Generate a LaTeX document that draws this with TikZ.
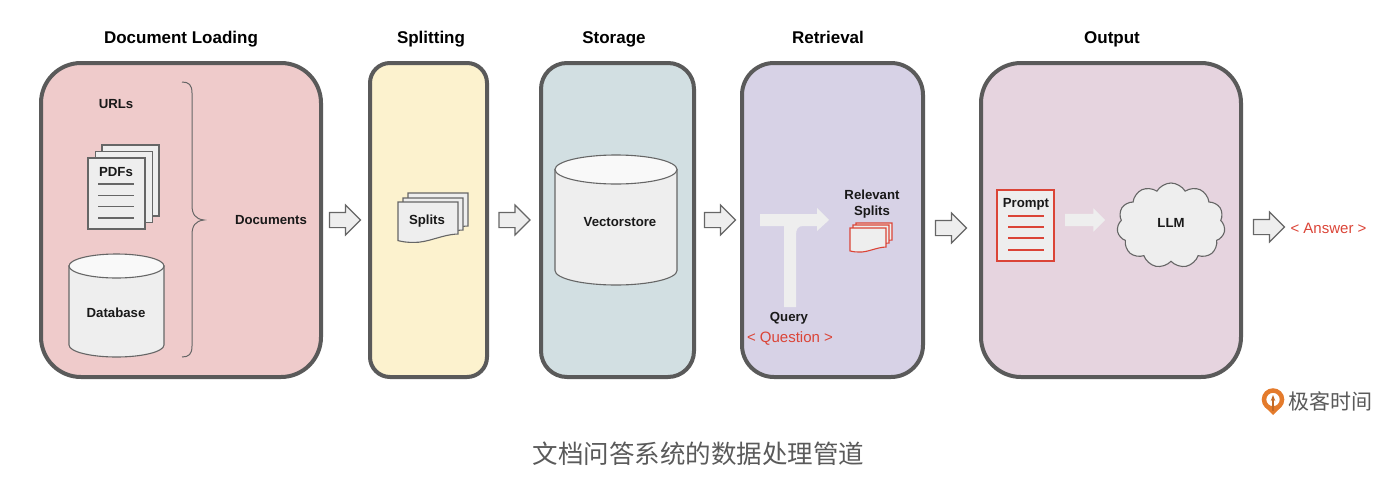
\documentclass[tikz,border=0pt]{standalone}
\usepackage{fontspec}
\setmainfont{Liberation Sans}
\newfontfamily\cjkfont{Noto Sans CJK SC}
\usepackage{xcolor}
\usetikzlibrary{arrows.meta, positioning, shapes.geometric, shapes.arrows, shapes.symbols}

\definecolor{framegray}{HTML}{5A5A5A}
\definecolor{linegray}{HTML}{666666}
\definecolor{sheetgray}{HTML}{EEEEEE}
\definecolor{answerred}{HTML}{DB4437}
\definecolor{loadingfill}{HTML}{EFCBCB}
\definecolor{splittingfill}{HTML}{FCF2CE}
\definecolor{storagefill}{HTML}{D2DFE2}
\definecolor{retrievalfill}{HTML}{D7D2E6}
\definecolor{outputfill}{HTML}{E6D4DF}
\definecolor{logoorange}{HTML}{E47B2C}

% wavy sheet: style, x, y, width, height
\newcommand{\wavesheet}[5]{
    \draw[#1] (#2,#3) -- (#2+#4,#3) -- (#2+#4,#3+#5)
        .. controls (#2+0.72*#4,#3+#5+0.01*#4) and (#2+0.5*#4,#3+#5+0.15*#4) .. (#2+0.25*#4,#3+#5+0.14*#4)
        .. controls (#2+0.15*#4,#3+#5+0.14*#4) and (#2+0.08*#4,#3+#5+0.13*#4) .. (#2,#3+#5+0.11*#4) -- cycle;
}
% drum: x centre, y of top centre, y of bottom centre, x radius, y radius
\newcommand{\drumshape}[5]{
    \draw[drum, fill=sheetgray] (#1-#4,#2) -- (#1-#4,#3)
        arc[start angle=180, end angle=360, x radius=#4 pt, y radius=#5 pt] -- (#1+#4,#2) -- cycle;
    \draw[drum, fill=white!65!sheetgray] (#1,#2) ellipse[x radius=#4 pt, y radius=#5 pt];
}

\begin{document}
\begin{tikzpicture}[x=1pt, y=-1pt,
    panel/.style={draw=framegray, line width=4pt, rectangle, minimum height=314pt, outer sep=0pt},
    title/.style={font=\bfseries\fontsize{17}{20}\selectfont, inner sep=0pt, text height=13pt, text depth=4pt},
    textlabel/.style={font=\bfseries\fontsize{13.2}{16}\selectfont, inner sep=0pt, align=center, text=black!90},
    redtext/.style={font=\fontsize{15}{18}\selectfont, inner sep=0pt, text=answerred},
    blockarrow/.style={single arrow, draw=linegray, fill=sheetgray, line width=1.1pt, inner sep=0pt, outer sep=0pt,
        text height=14pt, text depth=0pt, minimum height=31pt, single arrow head extend=7.5pt, single arrow tip angle=90},
    softarrow/.style={single arrow, fill=sheetgray, inner sep=0pt, outer sep=0pt, text height=12pt, text depth=0pt,
        minimum height=40pt, single arrow head extend=5.5pt, single arrow tip angle=90},
    pagebox/.style={draw=linegray, fill=sheetgray, line width=1.1pt, rectangle, minimum width=57pt, minimum height=71pt, inner sep=0pt, outer sep=0pt},
    drum/.style={draw=linegray, line width=1.1pt}]

    \useasboundingbox (0,0) rectangle (1387,480);

    % Stage panels
    \node[panel, fill=loadingfill, minimum width=280pt, rounded corners=40pt] (loading) at (181,220) {};
    \node[panel, right=49pt of loading, fill=splittingfill, minimum width=117pt, rounded corners=20pt] (splitting) {};
    \node[panel, right=54pt of splitting, fill=storagefill, minimum width=153pt, rounded corners=26pt] (storage) {};
    \node[panel, right=48pt of storage, fill=retrievalfill, minimum width=181pt, rounded corners=32pt] (retrieval) {};
    \node[panel, right=58pt of retrieval, fill=outputfill, minimum width=260pt, rounded corners=40pt] (output) {};

    % Stage titles
    \node[title, above=15.5pt of loading.north] (loading_title) {Document Loading};
    \node[title, above=15.5pt of splitting.north, xshift=2.5pt] (splitting_title) {Splitting};
    \node[title, above=15.5pt of storage.north, xshift=-3.5pt] (storage_title) {Storage};
    \node[title, above=15.5pt of retrieval.north, xshift=-4.5pt] (retrieval_title) {Retrieval};
    \node[title, above=15.5pt of output.north, xshift=1pt] (output_title) {Output};

    % Arrows between stages
    \node[blockarrow, right=8.5pt of loading] (arrow_a) {};
    \node[blockarrow, right=12pt of splitting] (arrow_b) {};
    \node[blockarrow, right=10.5pt of storage] (arrow_c) {};
    \node[blockarrow, right=12.5pt of retrieval, yshift=-8pt] (arrow_d) {};
    \node[blockarrow, right=12.5pt of output, yshift=-7pt] (arrow_e) {};

    % Document sources
    \node[textlabel] (urls) at (116,104) {URLs};
    \node[pagebox] (pdf_back) at (130.5,180.5) {};
    \node[pagebox] (pdf_mid) at (124,187) {};
    \node[pagebox] (pdf_front) at (116.5,193.5) {};
    \node[textlabel] (pdfs) at (116,172) {PDFs};
    \foreach \y in {184,195.5,206.5,218} {
        \draw[linegray, line width=1.2pt] (98,\y) -- (134,\y);
    }
    \drumshape{116.5}{266}{345}{47.5}{12}
    \node[textlabel] (database) at (116,313) {Database};

    % Brace
    \draw[linegray, line width=1pt] (182,82) .. controls (189,82) and (192,85) .. (192,93)
        -- (192,205) .. controls (192,214) and (195,219) .. (204,220)
        .. controls (195,221) and (192,226) .. (192,235) -- (192,346)
        .. controls (192,354) and (189,357) .. (182,357);
    \node[textlabel] (documents) at (271,220.5) {Documents};

    % Splits
    \wavesheet{draw=linegray, fill=sheetgray, line width=1.1pt}{408}{193}{60}{33}
    \wavesheet{draw=linegray, fill=sheetgray, line width=1.1pt}{403}{198}{60}{32}
    \wavesheet{draw=linegray, fill=sheetgray, line width=1.1pt}{398}{202}{60}{32}
    \node[textlabel] (splits) at (427,221) {Splits};

    % Vectorstore
    \drumshape{616}{169.5}{270.5}{61}{14.5}
    \node[textlabel] (vectorstore) at (620,222.5) {Vectorstore};

    % Query path
    \fill[sheetgray] (760,214) -- (817,214) -- (817,208) -- (829,220) -- (817,231) -- (817,226) -- (803,226)
        .. controls (798,226) and (796,229) .. (796,235) -- (796,307) -- (784,307) -- (784,226) -- (760,226) -- cycle;
    \node[textlabel] (query) at (789,318) {Query};
    \node[redtext] (question) at (790,338) {< Question >};
    \node[textlabel] (relevant) at (872,204.5) {Relevant\\Splits};
    \wavesheet{draw=answerred, fill=sheetgray, line width=1.1pt}{856}{223}{36}{17}
    \wavesheet{draw=answerred, fill=sheetgray, line width=1.1pt}{853}{225}{36}{18}
    \wavesheet{draw=answerred, fill=sheetgray, line width=1.1pt}{850}{228}{36}{19}

    % Prompt and model
    \node[draw=answerred, fill=sheetgray, line width=1.2pt, rectangle, minimum width=57pt, minimum height=71pt, inner sep=0pt, outer sep=0pt] (prompt) at (1025.5,225.5) {};
    \node[textlabel] (prompt_label) at (1026,204) {Prompt};
    \foreach \y in {216,227,238,250} {
        \draw[answerred, line width=1.2pt] (1008,\y) -- (1044,\y);
    }
    \node[softarrow, right=11pt of prompt, yshift=5.5pt] (prompt_arrow) {};
    \node[cloud, cloud puffs=11, cloud puff arc=120, aspect=1.3, draw=linegray, fill=sheetgray, line width=1.1pt, minimum width=108pt, minimum height=85pt, inner sep=0pt, outer sep=0pt] (llm) at (1171,225.5) {};
    \node[textlabel] (llm_label) at (1171,222.5) {LLM};

    % Answer
    \node[redtext] (answer) at (1328.5,228) {< Answer >};

    % Logo
    \fill[logoorange] (1266,408) -- (1273,415) -- (1280,408) -- cycle;
    \node[circle, draw=logoorange, fill=white, line width=4.5pt, minimum size=18pt, inner sep=0pt, outer sep=0pt] (logo) at (1273,399.5) {};
    \draw[-{Stealth[length=6pt]}, logoorange!85!black, line width=2.5pt] (1273,411) -- (1273,395);
    \node[font=\cjkfont\fontsize{21}{24}\selectfont, text=framegray, inner sep=0pt] (brand) at (1330.5,401) {极客时间};

    % Caption
    \node[font=\cjkfont\fontsize{25.5}{30}\selectfont, text=framegray, inner sep=0pt] (caption) at (698.5,454) {文档问答系统的数据处理管道};

\end{tikzpicture}
\end{document}
